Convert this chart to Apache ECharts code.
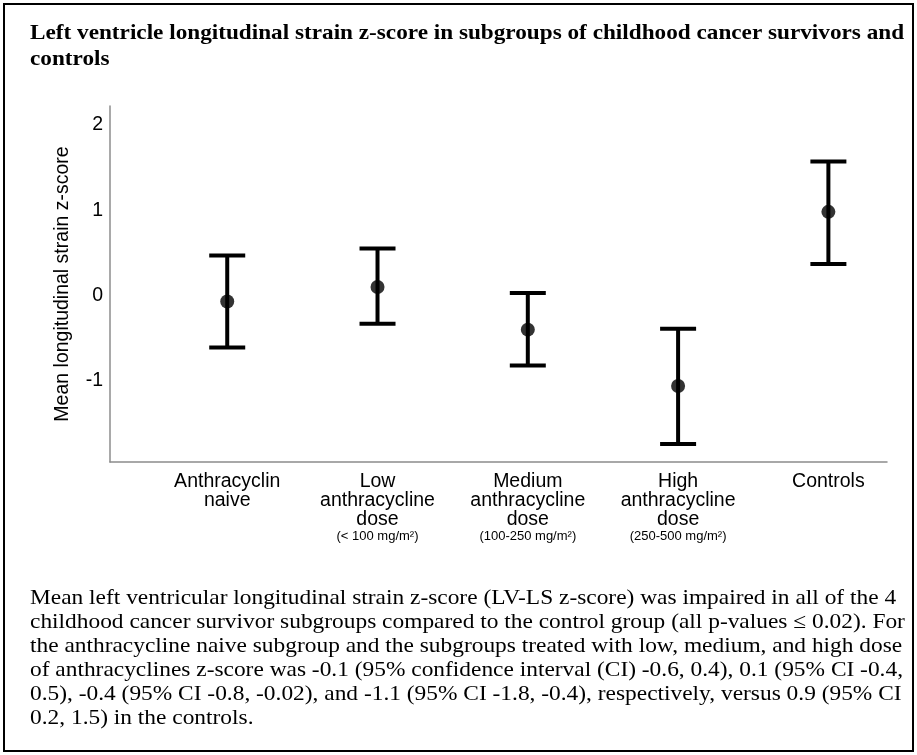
<!DOCTYPE html>
<html>
<head>
    <meta charset="UTF-8">
    <title>LV-LS z-score</title>
    <script src="https://cdn.jsdelivr.net/npm/echarts@6/dist/echarts.min.js"></script>
    <style>
        html, body { margin: 0; padding: 0; background: #fff; }
        #main { width: 917px; height: 755px; }
    </style>
</head>
<body>
<div id="main"></div>
<script>
    // groups and values
    var groupNames = ['Anthracyclin\nnaive', 'Low\nanthracycline\ndose', 'Medium\nanthracycline\ndose', 'High\nanthracycline\ndose', 'Controls'];
    var doseNotes = ['', '(< 100 mg/m²)', '(100-250 mg/m²)', '(250-500 mg/m²)', ''];
    var means = [-0.07, 0.10, -0.40, -1.06, 0.98];
    var lower = [-0.61, -0.33, -0.82, -1.74, 0.37];
    var upper = [0.47, 0.55, 0.03, -0.39, 1.57];
    var yTicks = [-1, 0, 1, 2];
    var xPos = [0, 1, 2, 3, 4];

    var titleText = 'Left ventricle longitudinal strain z-score in subgroups of childhood cancer survivors and\ncontrols';
    var captionText = 'Mean left ventricular longitudinal strain z-score (LV-LS z-score) was impaired in all of the 4\n' +
        'childhood cancer survivor subgroups compared to the control group (all p-values ≤ 0.02). For\n' +
        'the anthracycline naive subgroup and the subgroups treated with low, medium, and high dose\n' +
        'of anthracyclines z-score was -0.1 (95% confidence interval (CI) -0.6, 0.4), 0.1 (95% CI -0.4,\n' +
        '0.5), -0.4 (95% CI -0.8, -0.02), and -1.1 (95% CI -1.8, -0.4), respectively, versus 0.9 (95% CI\n' +
        '0.2, 1.5) in the controls.';

    var barData = [], meanData = [];
    for (var i = 0; i < xPos.length; i++) {
        barData.push([xPos[i], lower[i], upper[i]]);
        meanData.push([xPos[i], means[i]]);
    }

    var myChart = echarts.init(document.getElementById('main'));
    var option = {
        backgroundColor: '#fff',
        animation: false,
        grid: {
            left: 110,
            right: 30,
            top: 106,
            bottom: 293
        },
        xAxis: {
            type: 'value',
            min: -0.78,
            max: 4.39,
            splitLine: { show: false },
            axisTick: { show: false },
            axisLine: { show: true, onZero: false, lineStyle: { color: '#8c8c8c', width: 1.5 } },
            axisLabel: {
                customValues: xPos,
                margin: 10,
                formatter: function (v) {
                    var k = Math.round(v);
                    var s = groupNames[k].split('\n').map(function (t) { return '{a|' + t + '}'; }).join('\n');
                    if (doseNotes[k]) s += '\n{s|' + doseNotes[k] + '}';
                    return s;
                },
                rich: {
                    a: { fontFamily: 'Liberation Sans', fontSize: 19.5, lineHeight: 19, color: '#000', align: 'center' },
                    s: { fontFamily: 'Liberation Sans', fontSize: 13, lineHeight: 14, color: '#000', align: 'center' }
                }
            }
        },
        yAxis: {
            type: 'value',
            min: -1.95,
            max: 2.22,
            name: 'Mean longitudinal strain z-score',
            nameLocation: 'middle',
            nameGap: 37,
            nameTextStyle: { fontFamily: 'Liberation Sans', fontSize: 19.5, color: '#000' },
            splitLine: { show: false },
            axisTick: { show: false },
            axisLine: { show: true, onZero: false, lineStyle: { color: '#8c8c8c', width: 1.5 } },
            axisLabel: {
                customValues: yTicks,
                margin: 7,
                fontFamily: 'Liberation Sans',
                fontSize: 19.5,
                color: '#000'
            }
        },
        series: [
            {
                type: 'custom',
                data: barData,
                renderItem: function (params, api) {
                    var lo = api.coord([api.value(0), api.value(1)]);
                    var hi = api.coord([api.value(0), api.value(2)]);
                    var hw = 18;
                    var st = { stroke: '#000', lineWidth: 4 };
                    return {
                        type: 'group',
                        children: [
                            { type: 'line', shape: { x1: lo[0], y1: lo[1], x2: hi[0], y2: hi[1] }, style: st },
                            { type: 'line', shape: { x1: lo[0] - hw, y1: lo[1], x2: lo[0] + hw, y2: lo[1] }, style: st },
                            { type: 'line', shape: { x1: hi[0] - hw, y1: hi[1], x2: hi[0] + hw, y2: hi[1] }, style: st }
                        ]
                    };
                },
                z: 2
            },
            {
                type: 'scatter',
                data: meanData,
                symbol: 'circle',
                symbolSize: 14,
                itemStyle: { color: '#000' },
                z: 3
            }
        ],
        graphic: [
            {
                type: 'rect',
                shape: { x: 4, y: 4, width: 909, height: 747 },
                style: { fill: 'none', stroke: '#000', lineWidth: 2 }
            },
            {
                // title, slightly wider than plain Times like the picture
                type: 'text',
                x: 30,
                y: 20,
                scaleX: 1.055,
                style: {
                    text: titleText,
                    x: 0,
                    y: 0,
                    verticalAlign: 'top',
                    fontFamily: 'Liberation Serif',
                    fontWeight: 'bold',
                    fontSize: 22,
                    lineHeight: 26,
                    fill: '#000'
                }
            },
            {
                type: 'text',
                x: 30,
                y: 586,
                scaleX: 1.088,
                style: {
                    text: captionText,
                    x: 0,
                    y: 0,
                    verticalAlign: 'top',
                    fontFamily: 'Liberation Serif',
                    fontSize: 21.5,
                    lineHeight: 24,
                    fill: '#000'
                }
            }
        ]
    };
    myChart.setOption(option);
</script>
</body>
</html>
